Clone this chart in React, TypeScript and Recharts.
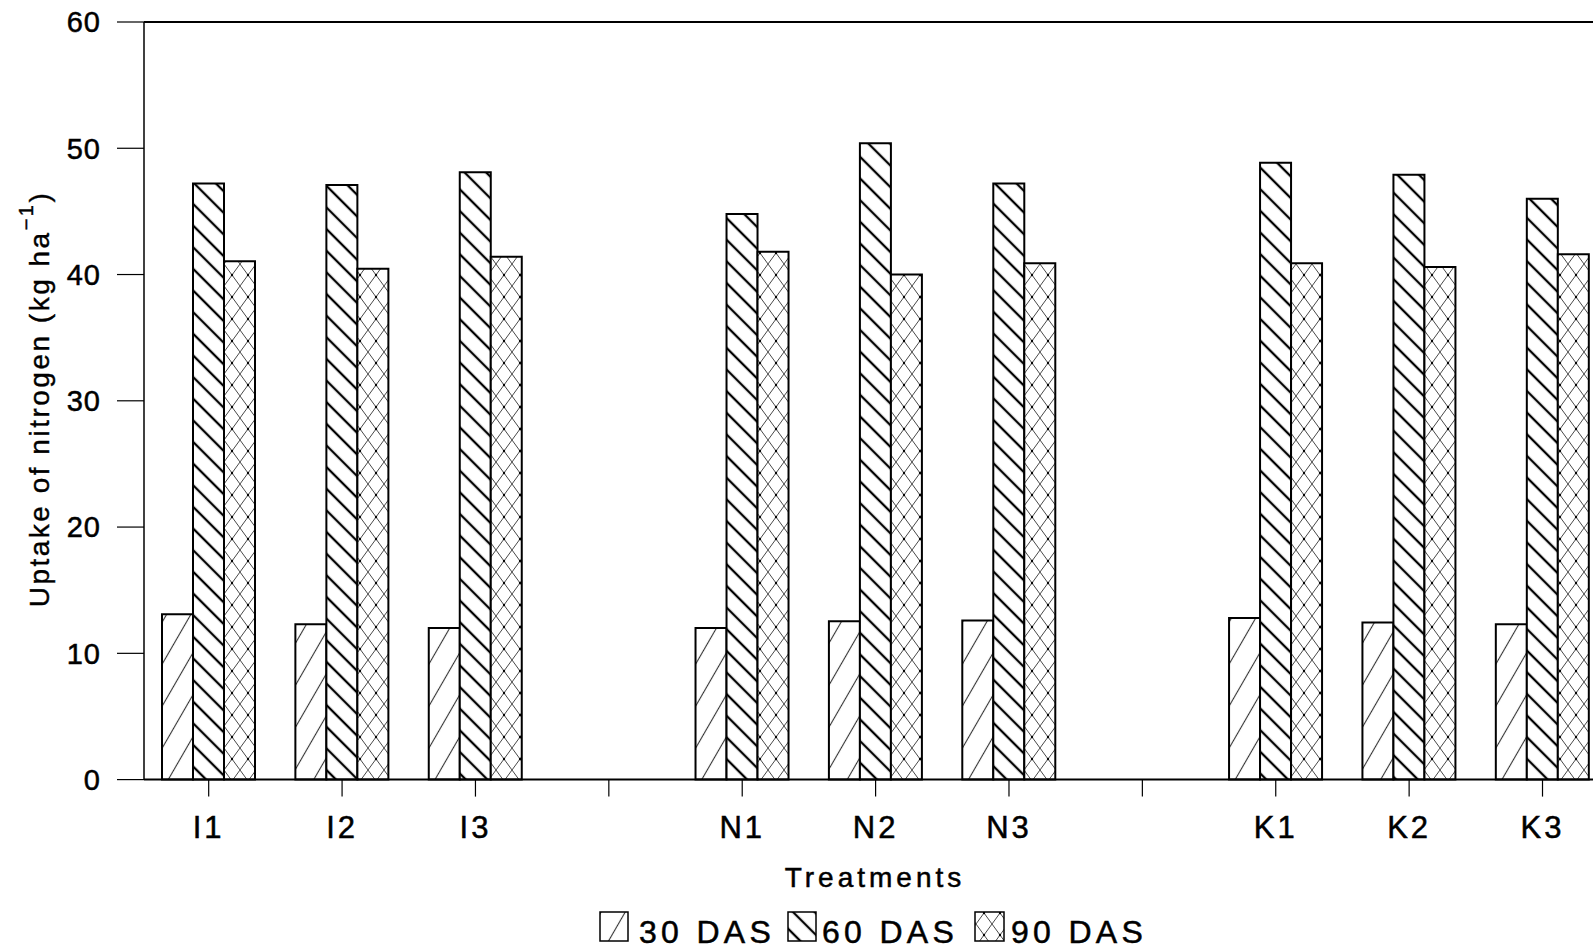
import React from 'react';
import { BarChart, Bar, XAxis, YAxis, ReferenceLine } from 'recharts';

const categories = ['I1', 'I2', 'I3', '', 'N1', 'N2', 'N3', ' ', 'K1', 'K2', 'K3'];
const das30 = [13.1, 12.3, 12.0, null, 12.0, 12.55, 12.6, null, 12.8, 12.45, 12.3];
const das60 = [47.2, 47.1, 48.1, null, 44.8, 50.4, 47.2, null, 48.85, 47.9, 46.0];
const das90 = [41.05, 40.45, 41.4, null, 41.8, 40.0, 40.9, null, 40.9, 40.6, 41.6];
const yTicks = [0, 10, 20, 30, 40, 50, 60];
const seriesNames = ['30 DAS', '60 DAS', '90 DAS'];

const data = categories.map((name, i) => ({
  name,
  d30: das30[i],
  d60: das60[i],
  d90: das90[i],
}));

const FONT = '"Liberation Sans", Arial, Helvetica, sans-serif';

export default function App() {
  return (
    <div
      style={{
        position: 'absolute',
        left: 0,
        top: 0,
        width: 1593,
        height: 950,
        overflow: 'hidden',
        background: '#fff',
      }}
    >
      <BarChart
        width={1640}
        height={950}
        data={data}
        margin={{ top: 22, right: 30.8, bottom: 110.4, left: 0 }}
        barSize={31}
        barGap={0}
      >
        <defs>
          <pattern id="p30" patternUnits="userSpaceOnUse" width="21" height="21" patternTransform="rotate(30)">
            <rect width="21" height="21" fill="#fff" />
            <line x1="10.5" y1="0" x2="10.5" y2="21" stroke="#333" strokeWidth="1.1" />
          </pattern>
          <pattern id="p60" patternUnits="userSpaceOnUse" width="15.3" height="15.3" patternTransform="rotate(-45)">
            <rect width="15.3" height="15.3" fill="#fff" />
            <line x1="7.65" y1="0" x2="7.65" y2="15.3" stroke="#000" strokeWidth="2.3" />
          </pattern>
          <pattern id="p90" patternUnits="userSpaceOnUse" width="16" height="22">
            <rect width="16" height="22" fill="#fff" />
            <line x1="0" y1="0" x2="16" y2="22" stroke="#333" strokeWidth="0.9" />
            <line x1="16" y1="0" x2="0" y2="22" stroke="#333" strokeWidth="0.9" />
            <circle cx="8" cy="11" r="1.2" fill="#000" />
          </pattern>
        </defs>
        <XAxis
          dataKey="name"
          interval={0}
          height={60}
          padding={{ left: -2, right: 0 }}
          tickSize={17}
          tickMargin={19}
          axisLine={{ stroke: '#000', strokeWidth: 2 }}
          tickLine={{ stroke: '#000', strokeWidth: 1.2 }}
          tick={{ fill: '#000', stroke: '#000', strokeWidth: 0.5, fontSize: 31, fontFamily: FONT, letterSpacing: 3 }}
        />
        <YAxis
          width={144}
          domain={[0, 60]}
          ticks={yTicks}
          interval={0}
          tickSize={27}
          tickMargin={16}
          axisLine={{ stroke: '#000', strokeWidth: 1.5 }}
          tickLine={{ stroke: '#000', strokeWidth: 1.2 }}
          tick={{ fill: '#000', stroke: '#000', strokeWidth: 0.5, fontSize: 29, fontFamily: FONT, letterSpacing: 1 }}
        />
        <ReferenceLine y={60} stroke="#000" strokeWidth={2} />
        <Bar dataKey="d30" name={seriesNames[0]} fill="url(#p30)" stroke="#000" strokeWidth={2} isAnimationActive={false} />
        <Bar dataKey="d60" name={seriesNames[1]} fill="url(#p60)" stroke="#000" strokeWidth={2} isAnimationActive={false} />
        <Bar dataKey="d90" name={seriesNames[2]} fill="url(#p90)" stroke="#000" strokeWidth={2} isAnimationActive={false} />

        <text
          x={39}
          y={399}
          transform="rotate(-90 39 399)"
          textAnchor="middle"
          dominantBaseline="central"
          fontSize={28}
          fontFamily={FONT}
          fill="#000"
          stroke="#000"
          strokeWidth={0.4}
          style={{ letterSpacing: 2.5 }}
        >
          Uptake of nitrogen (kg ha
          <tspan fontSize={20} dy={-13}>−1</tspan>
          <tspan dy={13}>)</tspan>
        </text>

        <text
          x={875}
          y={887}
          textAnchor="middle"
          fontSize={28}
          fontFamily={FONT}
          fill="#000"
          stroke="#000"
          strokeWidth={0.5}
          style={{ letterSpacing: 4 }}
        >
          Treatments
        </text>

        <rect x={600} y={912} width={28} height={29} fill="url(#p30)" stroke="#000" strokeWidth={1.5} />
        <text x={639} y={943} fontSize={32} fontFamily={FONT} fill="#000" stroke="#000" strokeWidth={0.5} style={{ letterSpacing: 4.3 }}>
          {seriesNames[0]}
        </text>
        <rect x={788} y={912} width={28} height={29} fill="url(#p60)" stroke="#000" strokeWidth={1.5} />
        <text x={822} y={943} fontSize={32} fontFamily={FONT} fill="#000" stroke="#000" strokeWidth={0.5} style={{ letterSpacing: 4.3 }}>
          {seriesNames[1]}
        </text>
        <rect x={975} y={912} width={29} height={29} fill="url(#p90)" stroke="#000" strokeWidth={1.5} />
        <text x={1011} y={943} fontSize={32} fontFamily={FONT} fill="#000" stroke="#000" strokeWidth={0.5} style={{ letterSpacing: 4.3 }}>
          {seriesNames[2]}
        </text>
      </BarChart>
    </div>
  );
}
